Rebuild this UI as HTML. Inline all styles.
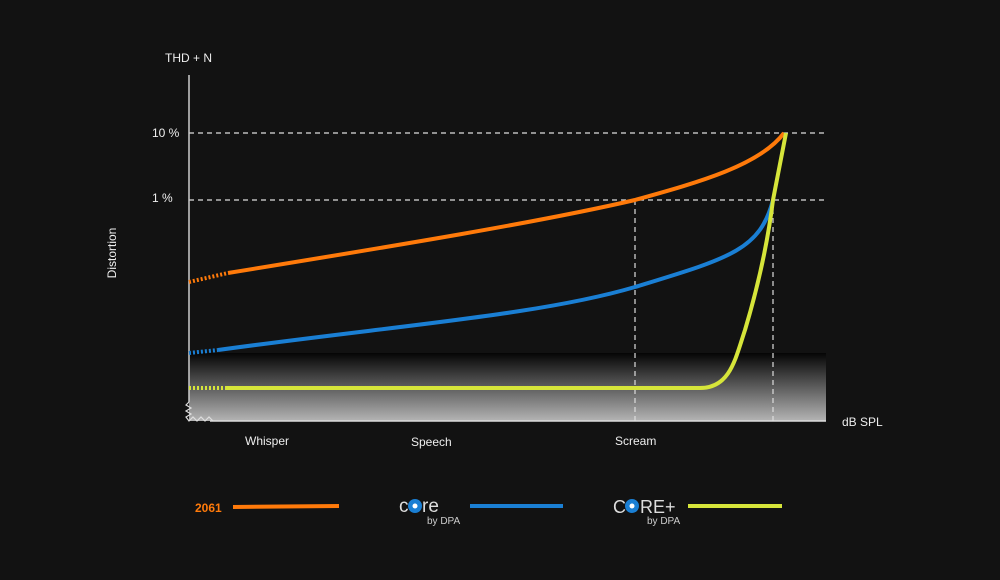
<!DOCTYPE html>
<html><head><style>
body{margin:0;background:#121212;width:1000px;height:575px;overflow:hidden;font-family:"Liberation Sans",sans-serif}
svg text{font-family:"Liberation Sans",sans-serif;fill:#eee}
</style></head><body>
<svg width="1000" height="575" viewBox="0 0 1000 575">
<defs><linearGradient id="g" x1="0" y1="0" x2="0" y2="1"><stop offset="0" stop-color="#050505"/><stop offset="1" stop-color="#b4b4b4"/></linearGradient></defs>
<rect width="1000" height="575" fill="#121212"/>
<rect x="189" y="353" width="637" height="68" fill="url(#g)"/>
<g stroke="#ddd" stroke-width="1.2" stroke-dasharray="5,4" fill="none">
<line x1="189" y1="133" x2="826" y2="133"/>
<line x1="189" y1="200" x2="826" y2="200"/>
<line x1="635" y1="200" x2="635" y2="421"/>
<line x1="773" y1="200" x2="773" y2="421"/>
</g>
<line x1="189" y1="75" x2="189" y2="402" stroke="#ccc" stroke-width="1.5"/>
<line x1="210" y1="421" x2="826" y2="421" stroke="#ddd" stroke-width="1.5"/>
<polyline points="189,402 186,405 191,408 186,411 191,414 186,417 189,421 193,417 197,421 201,417 205,421 209,417 213,421" fill="none" stroke="#ddd" stroke-width="1.2"/>
<g fill="none" stroke-width="4">
<path d="M189,282 L228,273" stroke="#ff7a0a" stroke-dasharray="2,2"/>
<path d="M228,273 C400,245 540,222 635,200 C700,182 760,165 784,133" stroke="#ff7a0a"/>
<path d="M189,353 L218,350" stroke="#1a7fd4" stroke-dasharray="2,2"/>
<path d="M218,350 C400,325 540,315 635,287 C730,258 760,250 773,200" stroke="#1a7fd4"/>
<path d="M189,388 L226,388" stroke="#d6e53a" stroke-dasharray="2,2"/>
<path d="M226,388 L700,388 C730,388 735,360 745,330 C760,280 768,240 773,200 L786,133" stroke="#d6e53a"/>
</g>
<text x="165" y="62" font-size="12">THD + N</text>
<text x="152" y="137" font-size="12">10 %</text>
<text x="152" y="202" font-size="12">1 %</text>
<text x="116" y="253" font-size="12" transform="rotate(-90 116 253)" text-anchor="middle">Distortion</text>
<text x="842" y="426" font-size="12">dB SPL</text>
<text x="245" y="445" font-size="12">Whisper</text>
<text x="411" y="446" font-size="12">Speech</text>
<text x="615" y="445" font-size="12">Scream</text>
<text x="195" y="512" font-size="12" font-weight="bold" style="fill:#ff7a0a">2061</text>
<line x1="233" y1="507" x2="339" y2="506" stroke="#ff7a0a" stroke-width="4"/>
<text x="399" y="512" font-size="19" style="fill:#ddd">c</text><circle cx="415" cy="506" r="7" fill="#1a7fd4"/><circle cx="415" cy="506" r="2.5" fill="#fff"/><text x="422" y="512" font-size="19" style="fill:#ddd">re</text>
<text x="427" y="524" font-size="10" style="fill:#ccc">by DPA</text>
<line x1="470" y1="506" x2="563" y2="506" stroke="#1a7fd4" stroke-width="4"/>
<text x="613" y="513" font-size="18" style="fill:#ddd">C</text><circle cx="632" cy="506" r="7" fill="#1a7fd4"/><circle cx="632" cy="506" r="2.5" fill="#fff"/><text x="640" y="513" font-size="18" style="fill:#ddd">RE+</text>
<text x="647" y="524" font-size="10" style="fill:#ccc">by DPA</text>
<line x1="688" y1="506" x2="782" y2="506" stroke="#d6e53a" stroke-width="4"/>
</svg>
</body></html>
